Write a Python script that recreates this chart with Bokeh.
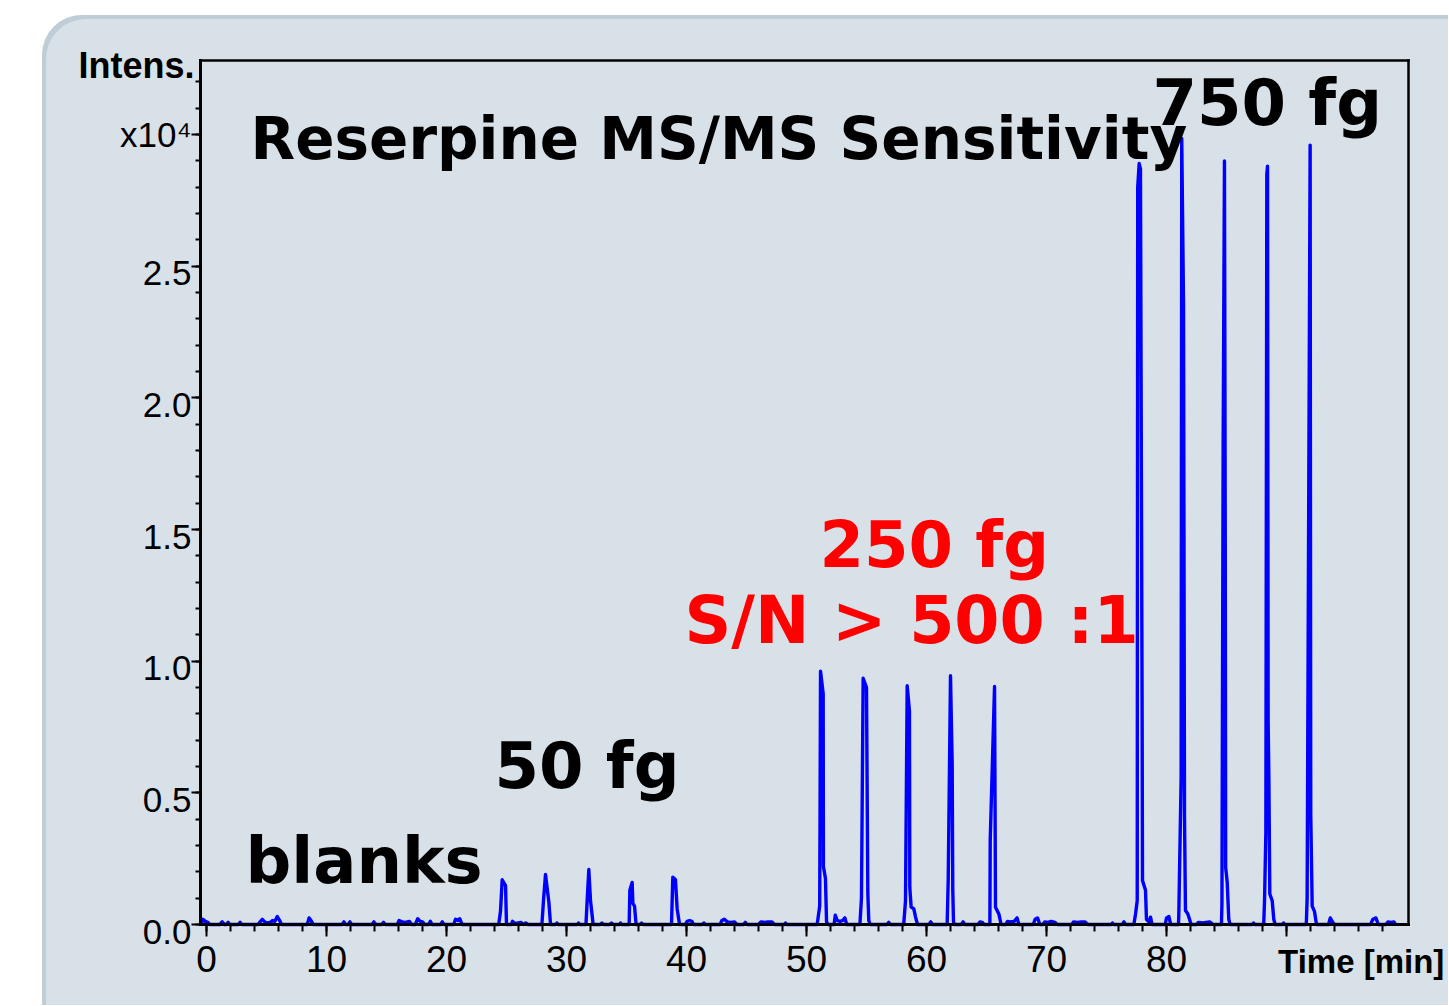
from bokeh.plotting import figure
from bokeh.models import Label, FixedTicker, CustomJSTickFormatter, Range1d, LinearAxis
from bokeh.embed import file_html
from bokeh.resources import INLINE

# ---------------- data (time in min, intensity in units of 10^4) ----------------
blank_time = [-0.45, -0.3, -0.1, 0.1, 0.3, 1.1, 1.3, 1.5, 1.65, 1.8, 1.95, 2.65, 2.8, 2.95,
              4.3, 4.5, 4.65, 4.8, 5.0, 5.3, 5.5, 5.7, 5.9, 6.1, 6.25, 8.4, 8.55, 8.75, 8.9,
              11.3, 11.45, 11.6, 11.8, 11.95, 12.1, 13.8, 13.95, 14.1, 14.6, 14.75, 14.9,
              15.9, 16.05, 16.3, 16.6, 16.9, 17.1, 17.4, 17.6, 17.8, 18.0, 18.2, 18.5, 18.65,
              18.8, 19.5, 19.65, 19.8, 20.6, 20.75, 20.95, 21.1, 21.3]
blank_int = [0.0, 0.02, 0.012, 0.008, 0.0, 0.0, 0.01, 0.0, 0.0, 0.008, 0.0, 0.0, 0.008, 0.0,
             0.0, 0.012, 0.02, 0.012, 0.006, 0.008, 0.015, 0.012, 0.03, 0.015, 0.0, 0.0, 0.025, 0.012, 0.0,
             0.0, 0.01, 0.0, 0.0, 0.01, 0.0, 0.0, 0.01, 0.0, 0.0, 0.008, 0.0,
             0.0, 0.015, 0.01, 0.008, 0.012, 0.0, 0.0, 0.022, 0.012, 0.01, 0.0, 0.0, 0.012,
             0.0, 0.0, 0.01, 0.0, 0.0, 0.02, 0.015, 0.022, 0.0]

fg50_time = [24.35, 24.5, 24.64, 24.92, 25.0, 25.4, 25.5, 25.65, 25.9, 26.2, 26.4, 26.6, 26.8,
             27.95, 28.08, 28.25, 28.53, 28.67, 29.1, 29.2, 29.3, 30.9, 31.0, 31.1,
             31.62, 31.72, 31.86, 32.0, 32.22, 32.8, 32.95, 33.1, 33.6, 33.75, 33.9, 34.4, 34.5, 34.6,
             35.22, 35.28, 35.47, 35.53, 35.67, 35.8, 36.1, 36.25, 36.4,
             38.75, 38.86, 39.08, 39.22, 39.42, 39.9, 40.05, 40.25, 40.45, 40.6, 41.3, 41.45, 41.6]
fg50_int = [0.0, 0.05, 0.17, 0.148, 0.0, 0.0, 0.012, 0.006, 0.005, 0.008, 0.0, 0.006, 0.0,
            0.0, 0.09, 0.19, 0.085, 0.0, 0.0, 0.006, 0.0, 0.0, 0.006, 0.0,
            0.0, 0.09, 0.209, 0.09, 0.0, 0.0, 0.006, 0.0, 0.0, 0.006, 0.0, 0.0, 0.006, 0.0,
            0.0, 0.13, 0.16, 0.08, 0.07, 0.0, 0.0, 0.006, 0.0,
            0.0, 0.18, 0.17, 0.06, 0.0, 0.0, 0.012, 0.015, 0.012, 0.0, 0.0, 0.006, 0.0]

gap1_time = [42.8, 42.95, 43.15, 43.4, 43.7, 44.0, 44.2, 44.75, 44.9, 45.05,
             46.0, 46.2, 46.5, 46.8, 47.1, 47.35, 48.15, 48.25, 48.35]
gap1_int = [0.0, 0.015, 0.02, 0.01, 0.008, 0.01, 0.0, 0.0, 0.008, 0.0,
            0.0, 0.01, 0.008, 0.01, 0.01, 0.0, 0.0, 0.006, 0.0]

fg250_time = [50.89, 51.1, 51.17, 51.39, 51.41, 51.58, 51.67, 51.8,
              52.3, 52.4, 52.55, 52.8, 53.0, 53.2, 53.35,
              54.45, 54.58, 54.72, 55.0, 55.11, 55.19, 55.3, 56.7, 56.85, 57.0,
              58.1, 58.25, 58.39, 58.58, 58.61, 58.72, 58.94, 59.08, 59.25, 60.2, 60.35, 60.5,
              61.72, 61.81, 62.0, 62.14, 62.19, 62.25, 62.35, 62.9, 63.05, 63.2,
              64.3, 64.45, 64.65, 64.8, 65.28, 65.31, 65.67, 65.75, 66.03, 66.22]
fg250_int = [0.0, 0.07, 0.962, 0.877, 0.22, 0.175, 0.01, 0.0,
             0.0, 0.035, 0.015, 0.012, 0.015, 0.025, 0.0,
             0.0, 0.10, 0.935, 0.90, 0.12, 0.015, 0.0, 0.0, 0.008, 0.0,
             0.0, 0.09, 0.907, 0.81, 0.14, 0.066, 0.06, 0.03, 0.0, 0.0, 0.01, 0.0,
             0.0, 0.17, 0.945, 0.61, 0.13, 0.01, 0.0, 0.0, 0.01, 0.0,
             0.0, 0.01, 0.008, 0.0, 0.0, 0.32, 0.904, 0.066, 0.04, 0.0]

gap2_time = [66.6, 66.75, 67.0, 67.3, 67.55, 67.7, 68.9, 69.05, 69.25, 69.45,
             69.7, 69.85, 70.1, 70.4, 70.7, 70.9, 72.1, 72.25, 72.6, 72.9, 73.2, 73.45,
             75.4, 75.5, 75.6, 76.3, 76.45, 76.6]
gap2_int = [0.0, 0.012, 0.01, 0.012, 0.025, 0.0, 0.0, 0.02, 0.025, 0.0,
            0.0, 0.01, 0.008, 0.012, 0.008, 0.0, 0.0, 0.01, 0.008, 0.01, 0.01, 0.0,
            0.0, 0.006, 0.0, 0.0, 0.01, 0.0]

fg750_time = [77.28, 77.42, 77.56, 77.6, 77.72, 77.83, 77.97, 78.0, 78.25, 78.33, 78.53, 78.67, 78.8,
              79.9, 80.0, 80.2, 80.35,
              81.0, 81.03, 81.22, 81.27, 81.42, 81.5, 81.58, 81.78, 81.92, 82.05,
              82.5, 82.65, 83.0, 83.3, 83.6, 83.9,
              84.58, 84.62, 84.72, 84.83, 84.9, 84.93, 85.06, 85.19, 85.3, 87.15, 87.25, 87.35,
              88.1, 88.17, 88.28, 88.36, 88.42, 88.47, 88.53, 88.61, 88.81, 88.94, 89.05,
              89.65, 89.75, 89.85,
              91.65, 91.72, 91.97, 92.02, 92.14, 92.33, 92.5,
              93.5, 93.65, 93.8, 94.0, 97.0, 97.2, 97.45, 97.65, 98.3, 98.45, 98.7, 98.95, 99.1]
fg750_int = [0.0, 0.04, 0.09, 2.8, 2.89, 2.87, 0.78, 0.167, 0.13, 0.02, 0.01, 0.028, 0.0,
             0.0, 0.025, 0.03, 0.0,
             0.0, 0.05, 0.56, 2.985, 2.35, 0.41, 0.053, 0.04, 0.02, 0.0,
             0.0, 0.008, 0.006, 0.008, 0.01, 0.0,
             0.0, 0.08, 1.8, 2.90, 1.38, 0.217, 0.16, 0.02, 0.0, 0.0, 0.006, 0.0,
             0.0, 0.09, 0.35, 2.85, 2.88, 0.77, 0.56, 0.116, 0.09, 0.02, 0.0,
             0.0, 0.006, 0.0,
             0.0, 0.1, 2.96, 0.42, 0.07, 0.05, 0.0,
             0.0, 0.025, 0.012, 0.0, 0.0, 0.02, 0.025, 0.0, 0.0, 0.01, 0.008, 0.01, 0.0]

time = blank_time + fg50_time + gap1_time + fg250_time + gap2_time + fg750_time
intens = blank_int + fg50_int + gap1_int + fg250_int + gap2_int + fg750_int

x_major = [0, 10, 20, 30, 40, 50, 60, 70, 80, 90]
x_minor = [v * 2 for v in range(0, 50)]
y_major = [0.0, 0.5, 1.0, 1.5, 2.0, 2.5, 3.0]
y_number_ticks = [0.0, 0.5, 1.0, 1.5, 2.0, 2.5]
y_minor = [round(v * 0.1, 1) for v in range(0, 33)]

# text, x, y (data units), colour, size
annotations = [
    ("Reserpine MS/MS Sensitivity", 3.67, 2.984, "black", "58px"),
    ("750 fg", 78.83, 3.121, "black", "64px"),
    ("250 fg", 51.08, 1.440, "red", "64px"),
    ("S/N > 500 :1", 39.83, 1.155, "red", "65px"),
    ("50 fg", 24.0, 0.603, "black", "64px"),
    ("blanks", 3.25, 0.242, "black", "64px"),
]

# axes box (data units)
X0, X1 = -0.5, 100.17
Y0, Y1 = 0.0, 3.2815

# ---------------- figure ----------------
panel_bg = "#d9e1e8"
p = figure(width=1406, height=990, output_backend="svg", toolbar_location=None,
           x_range=Range1d(-13.667, 103.5), y_range=Range1d(-0.3076, 3.4523),
           min_border=0, min_border_left=0, min_border_right=0,
           min_border_top=0, min_border_bottom=0,
           background_fill_color=None, border_fill_color=None)
p.extra_y_ranges = {"lbl": Range1d(-0.3076 + 0.0266, 3.4523 + 0.0266)}
p.margin = (15, 0, 0, 42)
p.styles = {"background-color": panel_bg,
            "border-top-left-radius": "40px",
            "box-shadow": "inset 4px 4px 0 0 #bfcdd6"}
p.grid.visible = False
p.outline_line_color = None

p.line(x=time, y=intens, line_color="#0000ff", line_width=3.4, line_join="round")

xa = p.xaxis[0]
xa.fixed_location = Y0
xa.bounds = (X0, X1)
xa.ticker = FixedTicker(ticks=x_major, minor_ticks=x_minor)
xa.formatter = CustomJSTickFormatter(code="return tick > 85 ? '' : tick.toFixed(0);")
xa.axis_line_width = 3
xa.axis_line_cap = "square"
xa.axis_line_color = "black"
xa.major_tick_line_width = 2
xa.minor_tick_line_width = 2
xa.major_tick_out = 12
xa.major_tick_in = 0
xa.minor_tick_out = 7
xa.minor_tick_in = 0
xa.major_label_text_font = "Liberation Sans"
xa.major_label_text_font_size = "37px"
xa.major_label_text_color = "black"
xa.major_label_standoff = 9

ya = p.yaxis[0]
ya.fixed_location = X0
ya.bounds = (Y0, Y1)
ya.ticker = FixedTicker(ticks=y_major, minor_ticks=y_minor)
ya.formatter = CustomJSTickFormatter(code="return tick > 2.9 ? 'x10\u2074' : '';")
ya.axis_line_width = 3
ya.axis_line_cap = "square"
ya.axis_line_color = "black"
ya.major_tick_line_width = 2
ya.minor_tick_line_width = 2
ya.major_tick_out = 9
ya.major_tick_in = 0
ya.minor_tick_out = 5
ya.minor_tick_in = 0
ya.major_label_text_font = "Liberation Sans"
ya.major_label_text_font_size = "35px"
ya.major_label_text_color = "black"
ya.major_label_standoff = 0

# numeric y labels, drawn slightly below their ticks as in the reference
ylab = LinearAxis(y_range_name="lbl", fixed_location=X0,
                  ticker=FixedTicker(ticks=y_number_ticks, minor_ticks=[]),
                  formatter=CustomJSTickFormatter(code="return tick.toFixed(1);"),
                  axis_line_color=None, major_tick_line_color=None, minor_tick_line_color=None,
                  major_tick_out=9, major_tick_in=0, minor_tick_out=0, minor_tick_in=0,
                  major_label_standoff=0, major_label_text_font="Liberation Sans",
                  major_label_text_font_size="35px", major_label_text_color="black")
p.add_layout(ylab, "left")

# top and right frame lines
top_ax = LinearAxis(fixed_location=Y1, bounds=(X0, X1), ticker=FixedTicker(ticks=[], minor_ticks=[]),
                    major_tick_line_color=None, minor_tick_line_color=None,
                    major_label_text_font_size="0px", axis_line_width=2.5,
                    axis_line_cap="square", axis_line_color="black")
p.add_layout(top_ax, "above")
right_ax = LinearAxis(fixed_location=X1, bounds=(Y0, Y1), ticker=FixedTicker(ticks=[], minor_ticks=[]),
                      major_tick_line_color=None, minor_tick_line_color=None,
                      major_label_text_font_size="0px", axis_line_width=2.5,
                      axis_line_cap="square", axis_line_color="black")
p.add_layout(right_ax, "right")

for txt, x, y, col, size in annotations:
    p.add_layout(Label(x=x, y=y, text=txt, text_color=col, text_font="DejaVu Sans",
                       text_font_style="bold", text_font_size=size,
                       text_align="left", text_baseline="alphabetic"))

p.add_layout(Label(x=-1.0, y=3.263, text="Intens.", text_color="black",
                   text_font="Liberation Sans", text_font_style="bold",
                   text_font_size="36px", text_align="right", text_baseline="alphabetic"))
p.add_layout(Label(x=89.3, y=-0.139, text="Time [min]", text_color="black",
                   text_font="Liberation Sans", text_font_style="bold",
                   text_font_size="33px", text_align="left", text_baseline="alphabetic"))

open("out.html", "w").write(file_html(p, INLINE))
